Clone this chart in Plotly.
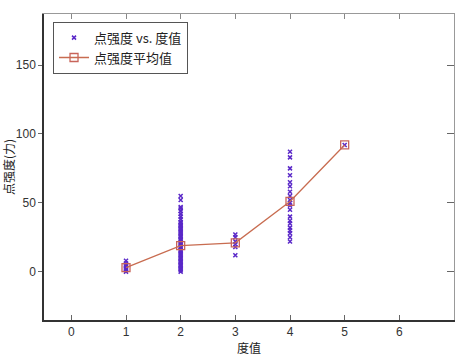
import plotly.graph_objects as go

# scatter data: degree vs point strength
deg1_vals = [0, 1, 2, 3, 4, 5, 6, 8]
deg2_vals = [0, 1, 2, 3, 4, 5, 6, 7, 8, 9, 10, 11, 12, 13, 14, 15, 16, 17, 18, 19,
             20, 21, 22, 23, 24, 25, 26, 27, 28, 29, 30, 31, 32, 33, 34, 35, 36,
             38, 40, 42, 44, 46, 47, 52, 55]
deg3_vals = [12, 18, 20, 22, 25, 27]
deg4_vals = [87, 83, 75, 70, 65, 62, 58, 55, 52, 50, 48, 45, 40, 37, 35, 32, 30, 28, 25, 22]
deg5_vals = [92]

mean_x = [1, 2, 3, 4, 5]
mean_y = [3, 19, 21, 51, 92]

xticks = [0, 1, 2, 3, 4, 5, 6]
yticks = [0, 50, 100, 150]

sx, sy = [], []
for d, vals in zip([1, 2, 3, 4, 5], [deg1_vals, deg2_vals, deg3_vals, deg4_vals, deg5_vals]):
    sx += [d] * len(vals)
    sy += vals

font_tick = "Liberation Sans Narrow, Liberation Sans, Arial"
font_cjk = "Noto Sans CJK SC"

fig = go.Figure()
fig.add_trace(go.Scatter(
    x=sx, y=sy, mode="markers", name="点强度 vs. 度值",
    marker=dict(symbol="x-thin", size=4, color="#5a28c8",
                line=dict(color="#5a28c8", width=1.5)),
))
fig.add_trace(go.Scatter(
    x=mean_x, y=mean_y, mode="lines+markers", name="点强度平均值",
    line=dict(color="#c86c50", width=1.3),
    marker=dict(symbol="square-open", size=8, color="#c8645a",
                line=dict(width=1.3)),
))
# invisible trace to drive the mirrored right axis
fig.add_trace(go.Scatter(x=[None], y=[None], yaxis="y2", xaxis="x2",
                         showlegend=False, hoverinfo="skip"))

xr = [-0.5, 7]
yr = [-35, 187]

fig.update_layout(
    width=455, height=359,
    margin=dict(l=44, r=1, t=14, b=39),
    paper_bgcolor="white", plot_bgcolor="white",
    showlegend=True,
    legend=dict(x=0.022, y=0.975, xanchor="left", yanchor="top",
                bgcolor="white", bordercolor="#555", borderwidth=1,
                font=dict(family=font_cjk, size=13, color="#222"),
                tracegroupgap=0, itemsizing="trace"),
    xaxis=dict(range=xr, tickvals=xticks, ticks="inside", ticklen=5,
               tickcolor="#666", showline=True, linecolor="#333", linewidth=1.5,
               showgrid=False, zeroline=False,
               tickfont=dict(family=font_tick, size=12, color="#333"),
               title=dict(text="度值", font=dict(family=font_cjk, size=12, color="#222"),
                          standoff=4)),
    xaxis2=dict(range=xr, tickvals=xticks, ticks="inside", ticklen=5,
                tickcolor="#888", showline=True, linecolor="#999", linewidth=1,
                overlaying="x", side="top", showticklabels=False,
                showgrid=False, zeroline=False),
    yaxis=dict(range=yr, tickvals=yticks, ticks="outside", ticklen=4,
               tickcolor="#666", showline=True, linecolor="#333", linewidth=1.5,
               showgrid=False, zeroline=False,
               tickfont=dict(family=font_tick, size=12, color="#333"),
               title=dict(text="点强度(力)", font=dict(family=font_cjk, size=12, color="#222"),
                          standoff=0)),
    yaxis2=dict(range=yr, tickvals=yticks, ticks="inside", ticklen=7,
                tickcolor="#666", showline=True, linecolor="#999", linewidth=1,
                overlaying="y", side="right", showticklabels=False,
                showgrid=False, zeroline=False),
)

fig.write_html("out.html")
